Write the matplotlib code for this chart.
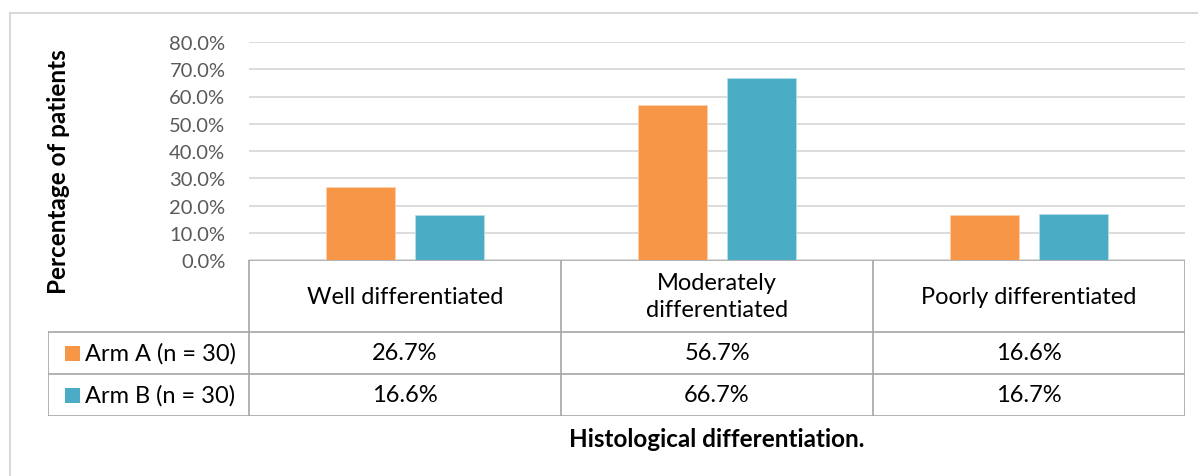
import numpy as np
import matplotlib.pyplot as plt
from matplotlib.lines import Line2D
from matplotlib.patches import Rectangle
from matplotlib.ticker import FuncFormatter

plt.rcParams['font.family'] = ['Lato', 'DejaVu Sans']

categories = ['Well differentiated', 'Moderately\ndifferentiated', 'Poorly differentiated']
arm_a = [26.7, 56.7, 16.6]
arm_b = [16.6, 66.7, 16.7]
series_names = ['Arm A (n = 30)', 'Arm B (n = 30)']
colors = ['#F79646', '#4BACC6']
yticks = np.arange(0, 81, 10)

W, H = 1198, 477
fig = plt.figure(figsize=(W / 100, H / 100), dpi=100)


def fx(px):
    return px / W


def fy(py):
    return 1 - py / H


# plot area
ax = fig.add_axes([fx(249), fy(261), fx(1185) - fx(249), fy(43) - fy(261)])
x = np.arange(len(categories))
bw = 0.224
off = 0.1425
ax.bar(x - off, arm_a, bw, color=colors[0], edgecolor='#fbd2b0', linewidth=0.6, zorder=3)
ax.bar(x + off, arm_b, bw, color=colors[1], edgecolor='#b4dde8', linewidth=0.6, zorder=3)
ax.set_xlim(-0.5, 2.5)
ax.set_ylim(0, 80)
ax.set_yticks(yticks)
ax.yaxis.set_major_formatter(FuncFormatter(lambda v, p: '%.1f%%' % v))
ax.tick_params(axis='y', length=0, pad=17, labelsize=14.5, labelcolor='#595959')
ax.set_xticks([])
ax.grid(axis='y', color='#d9d9d9', linewidth=1.3, zorder=0)
for s in ['left', 'right', 'top', 'bottom']:
    ax.spines[s].set_visible(False)

# data table under the axis
tab = fig.add_axes([fx(48), fy(417), fx(1185) - fx(48), fy(261) - fy(417)])
tab.set_xlim(-0.5 - (249 - 48) / 312, 2.5)
tab.set_ylim(0, 156)
tab.axis('off')
lc = '#a6a6a6'
left = tab.get_xlim()[0]
tab.add_line(Line2D([-0.5, 2.5], [156, 156], color=lc, lw=1.2))
for yy in [84, 42, 0]:
    tab.add_line(Line2D([left, 2.5], [yy, yy], color=lc, lw=1.2))
for xx in [-0.5, 0.5, 1.5, 2.5]:
    tab.add_line(Line2D([xx, xx], [0, 156], color=lc, lw=1.2))
tab.add_line(Line2D([left, left], [0, 84], color=lc, lw=1.2))

fs = 17
for i, c in enumerate(categories):
    tab.text(i, 120, c, ha='center', va='center', fontsize=fs, linespacing=1.4, color='#000000')
rows = [arm_a, arm_b]
for r, vals in enumerate(rows):
    yc = 63 - r * 42
    for i, v in enumerate(vals):
        tab.text(i, yc, '%.1f%%' % v, ha='center', va='center', fontsize=fs)
    tab.add_patch(Rectangle((left + 17 / 312, yc - 7.5), 15 / 312, 15, color=colors[r], lw=0))
    tab.text(left + 37 / 312, yc, series_names[r], ha='left', va='center', fontsize=fs)

# axis titles
fig.text(fx(58), fy(172), 'Percentage of patients', rotation=90, ha='center', va='center',
         fontsize=17.5, fontweight='bold')
fig.text(fx(717), fy(440), 'Histological differentiation.', ha='center', va='center',
         fontsize=17.5, fontweight='bold')

# chart frame
fig.add_artist(Line2D([fx(10), 1], [fy(14), fy(14)], color='#d9d9d9', lw=1.5))
fig.add_artist(Line2D([fx(10), fx(10)], [fy(14), 0], color='#d9d9d9', lw=1.5))

fig.savefig('out.png', dpi=100)
